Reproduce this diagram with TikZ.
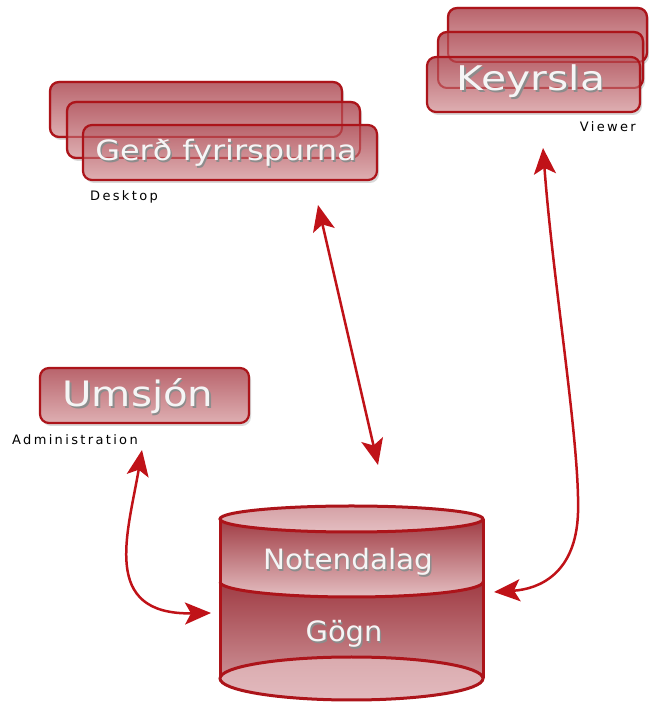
\documentclass[tikz,border=0pt]{standalone}
\usepackage{fontspec}
\setmainfont{DejaVu Sans}
\usetikzlibrary{arrows.meta,shadows}
\definecolor{bord}{RGB}{172,20,26}
\definecolor{arr}{RGB}{192,18,24}
\definecolor{boxtop}{RGB}{185,100,108}
\definecolor{boxbot}{RGB}{222,175,178}
\definecolor{cyldark}{RGB}{160,60,68}
\definecolor{cyllight}{RGB}{228,190,193}
\definecolor{cylpink}{RGB}{226,186,190}
\newcommand\wtext[2][1]{\scalebox{#1}[1]{\rlap{\kern1.3pt\raisebox{-1.6pt}{\textcolor{black!45}{#2}}}\textcolor{white!96!black}{#2}}}
\tikzset{
  stackbox/.style={draw=bord, line width=2.2pt, rounded corners=9pt,
    top color=boxtop, bottom color=boxbot, inner sep=0pt, outer sep=0pt,
    drop shadow={shadow xshift=2pt,shadow yshift=-3pt,opacity=0.15,fill=black}},
  ghost/.style={draw=bord, line width=2pt, rounded corners=9pt, draw opacity=0.55},
  smalllabel/.style={inner sep=0pt, text=black,
    font=\fontsize{13}{15}\selectfont\addfontfeatures{LetterSpace=18}},
  bigtext/.style={inner sep=0pt},
  conn/.style={draw=arr, line width=2.5pt,
    {Stealth[length=26pt,width=22pt,inset=6pt]}-{Stealth[length=26pt,width=22pt,inset=6pt]}},
  cylline/.style={draw=bord, line width=3pt}
}
\begin{document}
\begin{tikzpicture}[x=1pt,y=1pt]
\useasboundingbox (0,0) rectangle (648,703);

% Desktop stack
\node[stackbox, minimum width=292pt, minimum height=55pt] (db1) at (196,593.5) {};
\node[stackbox, minimum width=293pt, minimum height=56pt] (db2) at (213.5,573) {};
\node[stackbox, minimum width=294pt, minimum height=55pt] (db3) at (230,550.5) {};
\draw[ghost] (db1.south west) rectangle (db1.north east);
\draw[ghost] (db2.south west) rectangle (db2.north east);
\node[bigtext, font=\fontsize{28}{32}\selectfont] (dtext) at (226,549) {\wtext[1.14]{Gerð fyrirspurna}};
\node[smalllabel, anchor=west] (dlabel) at (90,506) {Desktop};

% Viewer stack
\node[stackbox, minimum width=199pt, minimum height=54pt] (vb1) at (547.5,668) {};
\node[stackbox, minimum width=205pt, minimum height=56pt] (vb2) at (540.5,643) {};
\node[stackbox, minimum width=213pt, minimum height=55pt] (vb3) at (533.5,618.5) {};
\draw[ghost] (vb1.south west) rectangle (vb1.north east);
\draw[ghost] (vb2.south west) rectangle (vb2.north east);
\node[bigtext, font=\fontsize{34}{38}\selectfont] (vtext) at (531,621) {\wtext[1.2]{Keyrsla}};
\node[smalllabel, anchor=east] (vlabel) at (636,576) {Viewer};

% Administration
\node[stackbox, minimum width=209pt, minimum height=55pt] (ab) at (144.5,307.5) {};
\node[bigtext, font=\fontsize{35}{40}\selectfont] (atext) at (138,306) {\wtext[1.15]{Umsjón}};
\node[smalllabel, anchor=west] (alabel) at (12,263) {Administration};

% Cylinder
\shade[top color=cyldark, bottom color=cyllight]
  (220,184) -- (220,121) arc[start angle=180,end angle=360,x radius=131.5,y radius=15]
  -- (483,184) -- cycle;
\shade[top color=cyldark, bottom color=cylpink!80!cyldark]
  (220,121) -- (220,24.5) arc[start angle=180,end angle=360,x radius=131.5,y radius=21.5]
  -- (483,121) arc[start angle=0,end angle=-180,x radius=131.5,y radius=15] -- cycle;
\shade[top color=cyllight!85!cyldark, bottom color=cylpink, draw=bord, line width=3pt]
  (351.5,24.5) ellipse[x radius=131.5, y radius=21.5];
\draw[cylline] (220,184) -- (220,24.5);
\draw[cylline] (483,184) -- (483,24.5);
\draw[cylline] (220,121) arc[start angle=180,end angle=360,x radius=131.5,y radius=15];
\shade[top color=cylpink!80!cyldark, bottom color=cyllight, draw=bord, line width=3pt]
  (351.5,184) ellipse[x radius=131.5, y radius=13];
\node[bigtext, font=\fontsize{28}{32}\selectfont] (ntext) at (348,140) {\wtext[1.05]{Notendalag}};
\node[bigtext, font=\fontsize{28}{32}\selectfont] (gtext) at (344,68) {\wtext[1.03]{Gögn}};

% Connectors
\coordinate (d1) at (318,498);
\coordinate (d2) at (378,238);
\draw[conn] (d1) -- (d2);

\coordinate (a1) at (142,253);
\coordinate (a2) at (211,90);
\draw[conn] (a1) .. controls (128,170) and (100,88) .. (a2);

\coordinate (v1) at (543,555);
\coordinate (vm) at (578,190);
\coordinate (v2) at (494,111);
\draw[conn] (v1) .. controls (553,420) and (580,260) .. (vm) .. controls (576,130) and (540,114) .. (v2);
\end{tikzpicture}
\end{document}
